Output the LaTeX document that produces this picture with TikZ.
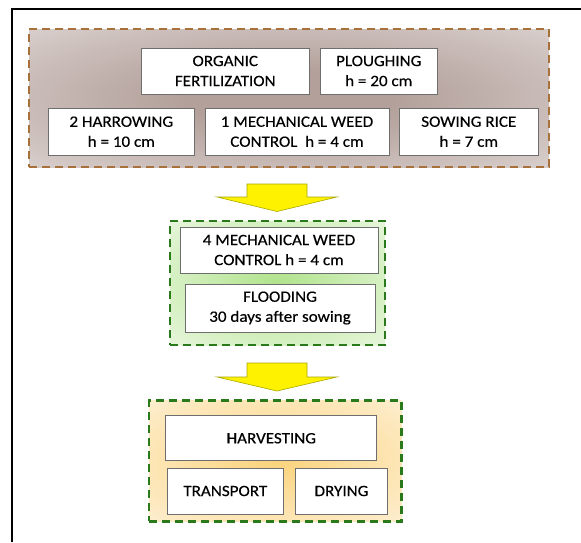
\documentclass[tikz,border=0pt]{standalone}
\usepackage{fontspec}
\setmainfont{Carlito}[FakeStretch=1.08,FakeBold=0.35]
\definecolor{brownline}{HTML}{A8703A}
\definecolor{browncenter}{HTML}{B3A09A}
\definecolor{brownedge}{HTML}{EDE9E8}
\definecolor{greenline}{HTML}{2A7A1C}
\definecolor{greencenter}{HTML}{B0E38C}
\definecolor{greenedge}{HTML}{F1F9EA}
\definecolor{orangecenter}{HTML}{FBD37C}
\definecolor{orangeedge}{HTML}{FEF3DE}
\definecolor{cellline}{HTML}{6E6E6E}
\definecolor{arrowline}{HTML}{A8A800}
\pgfdeclareradialshading{brownrad}{\pgfpoint{0bp}{0bp}}{color(0bp)=(browncenter); color(10bp)=(browncenter); color(50bp)=(brownedge); color(72bp)=(brownedge)}
\pgfdeclareradialshading{greenrad}{\pgfpoint{0bp}{0bp}}{color(0bp)=(greencenter); color(42bp)=(greenedge); color(72bp)=(greenedge)}
\pgfdeclareradialshading{orangerad}{\pgfpoint{0bp}{0bp}}{color(0bp)=(orangecenter); color(42bp)=(orangeedge); color(72bp)=(orangeedge)}
\tikzset{
  cell/.style={draw=cellline, line width=1pt, fill=white, rectangle, inner sep=0pt,
    align=center, font=\fontsize{15.8}{20}\selectfont},
  groupbox/.style={rectangle, inner sep=0pt, line width=2.6pt, dash pattern=on 8pt off 5pt},
  blockarrow/.style={fill=yellow, draw=arrowline, line width=0.6pt, line join=miter}
}
\begin{document}
\begin{tikzpicture}[x=1pt,y=-1pt]
\useasboundingbox (0,0) rectangle (581,542);
% outer frame (top and left edges only)
\draw[line width=2pt, black] (12,542) -- (12,9) -- (581,9);

% group 1 (brown)
\node[groupbox, draw=brownline, shading=brownrad,
  minimum width=520pt, minimum height=138pt] (g1) at (289,98) {};
\node[cell, minimum width=167.5pt, minimum height=46pt] (org) at (225.25,71) {ORGANIC\\FERTILIZATION};
\node[cell, minimum width=117.5pt, minimum height=46pt] (plo) at (378.75,71) {PLOUGHING\\h = 20 cm};
\node[cell, minimum width=146pt, minimum height=46.7pt] (har) at (121.3,131.7) {2 HARROWING\\h = 10 cm};
\node[cell, minimum width=184pt, minimum height=46.7pt] (mw1) at (297,131.7) {1 MECHANICAL WEED\\CONTROL\ \ h = 4 cm};
\node[cell, minimum width=139pt, minimum height=46.7pt] (sow) at (468.8,131.7) {SOWING RICE\\h = 7 cm};

% arrow 1
\draw[blockarrow] (247,184) -- (307,184) -- (307,197) -- (337,197) -- (277,211.5)
  -- (217,197) -- (247,197) -- cycle;

% group 2 (green)
\node[groupbox, draw=greenline, shading=greenrad,
  minimum width=215pt, minimum height=124pt] (g2) at (277.5,283) {};
\node[cell, minimum width=198pt, minimum height=46pt] (mw4) at (279,250) {4 MECHANICAL WEED\\CONTROL h = 4 cm};
\node[cell, minimum width=190pt, minimum height=48pt] (flo) at (280,308) {FLOODING\\30 days after sowing};

% arrow 2
\draw[blockarrow] (247,363) -- (307,363) -- (307,377) -- (337,377) -- (277,391)
  -- (217,377) -- (247,377) -- cycle;

% group 3 (orange)
\node[groupbox, draw=greenline, shading=orangerad,
  minimum width=252.5pt, minimum height=120.5pt] (g3) at (275.25,461) {};
\node[cell, minimum width=210.7pt, minimum height=45.3pt] (hrv) at (271.3,438.3) {HARVESTING};
\node[cell, minimum width=116pt, minimum height=46pt] (tra) at (225.3,491) {TRANSPORT};
\node[cell, minimum width=91.6pt, minimum height=46pt] (dry) at (341.5,491) {DRYING};
\end{tikzpicture}
\end{document}
